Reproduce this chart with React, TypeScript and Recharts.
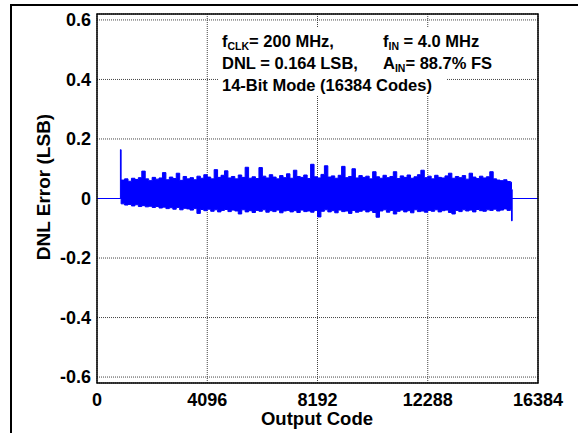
import { Area, AreaChart, CartesianGrid, ReferenceArea, XAxis, YAxis } from "recharts";

// output-code grid of the DNL band (one value per 128-code bin)
const bandStart = 896;
const bandStep = 128;

// upper envelope of the DNL noise band (LSB)
const bandHigh = [
  0.062, 0.066, 0.058, 0.068, 0.064, 0.07, 0.092, 0.066, 0.06, 0.071,
  0.065, 0.069, 0.087, 0.063, 0.072, 0.067, 0.085, 0.061, 0.074, 0.066,
  0.07, 0.063, 0.075, 0.068, 0.08, 0.072, 0.066, 0.097, 0.071, 0.078,
  0.093, 0.069, 0.074, 0.066, 0.079, 0.071, 0.105, 0.068, 0.073, 0.067,
  0.104, 0.075, 0.069, 0.08, 0.072, 0.066, 0.077, 0.07, 0.083, 0.068,
  0.095, 0.074, 0.071, 0.079, 0.067, 0.115, 0.073, 0.069, 0.081, 0.11,
  0.072, 0.076, 0.068, 0.078, 0.108, 0.07, 0.074, 0.1, 0.069, 0.077,
  0.071, 0.075, 0.066, 0.09, 0.073, 0.068, 0.078, 0.07, 0.074, 0.09,
  0.067, 0.076, 0.071, 0.079, 0.068, 0.073, 0.08, 0.095, 0.07, 0.075,
  0.066, 0.078, 0.071, 0.069, 0.076, 0.085, 0.068, 0.074, 0.07, 0.077,
  0.065, 0.085, 0.072, 0.067, 0.075, 0.069, 0.073, 0.09, 0.066, 0.062,
  0.06, 0.063, 0.057, 0.055,
];

// lower envelope of the DNL noise band (LSB)
const bandLow = [
  -0.018, -0.022, -0.02, -0.025, -0.021, -0.027, -0.024, -0.028, -0.026, -0.03,
  -0.027, -0.032, -0.029, -0.034, -0.031, -0.036, -0.03, -0.038, -0.033, -0.035,
  -0.039, -0.034, -0.05, -0.037, -0.041, -0.036, -0.043, -0.038, -0.045, -0.04,
  -0.037, -0.044, -0.039, -0.042, -0.052, -0.038, -0.045, -0.041, -0.047, -0.04,
  -0.043, -0.038, -0.046, -0.041, -0.044, -0.039, -0.048, -0.042, -0.04, -0.045,
  -0.041, -0.047, -0.039, -0.044, -0.042, -0.046, -0.04, -0.062, -0.043, -0.038,
  -0.045, -0.041, -0.048, -0.039, -0.044, -0.042, -0.05, -0.04, -0.046, -0.043,
  -0.039, -0.045, -0.041, -0.047, -0.063, -0.042, -0.038, -0.046, -0.04, -0.052,
  -0.043, -0.039, -0.045, -0.041, -0.048, -0.038, -0.044, -0.042, -0.046, -0.04,
  -0.043, -0.038, -0.045, -0.041, -0.039, -0.047, -0.052, -0.04, -0.044, -0.038,
  -0.042, -0.039, -0.045, -0.037, -0.041, -0.043, -0.038, -0.04, -0.036, -0.042,
  -0.039, -0.035, -0.04, -0.037,
];

// flat (untested) codes, first-code spike and last-code dip
const leadCodes = [0, 850];
const spike = { code: 870, value: 0.164 };
const dip = { code: 15400, low: -0.075, high: 0.03 };
const tailCodes = [15425, 16384];

const xTicks = [0, 4096, 8192, 12288, 16384];
const yTicks = [-0.6, -0.4, -0.2, 0, 0.2, 0.4, 0.6];

const rows = [
  ...leadCodes.map((code) => ({ code, dnl: [0, 0] })),
  { code: spike.code, dnl: [0, spike.value] },
  ...bandHigh.map((hi, i) => ({ code: bandStart + i * bandStep, dnl: [bandLow[i], hi] })),
  { code: dip.code, dnl: [dip.low, dip.high] },
  ...tailCodes.map((code) => ({ code, dnl: [0, 0] })),
];

const font = '"Liberation Sans", Arial, Helvetica, sans-serif';
const tickStyle = { fontSize: 18, fontWeight: 700, fill: "#000", fontFamily: font };

export default function App() {
  return (
    <div style={{ position: "relative", width: 578, height: 433, overflow: "hidden", background: "#fff" }}>
      <style>{"body{margin:0}"}</style>
      <div
        style={{
          position: "absolute",
          left: 10,
          top: 4,
          width: 600,
          height: 500,
          borderTop: "2px solid #000",
          borderLeft: "2px solid #000",
        }}
      />
      <div style={{ position: "absolute", left: 0, top: 0 }}>
        <AreaChart width={578} height={433} data={rows} margin={{ top: 14, right: 40, left: 0, bottom: 0 }}>
          <CartesianGrid stroke="#444" strokeDasharray="1 1" />
          <XAxis
            dataKey="code"
            type="number"
            domain={[0, 16384]}
            ticks={xTicks}
            height={50}
            tickLine={false}
            axisLine={false}
            tickSize={0}
            tickMargin={10}
            tick={tickStyle}
            interval={0}
          />
          <YAxis
            type="number"
            domain={[-0.62, 0.62]}
            ticks={yTicks}
            width={97}
            tickLine={false}
            axisLine={false}
            tickSize={0}
            tickMargin={6}
            tick={tickStyle}
            interval={0}
            tickFormatter={(v: number) => (v === 0 ? "0" : v.toFixed(1))}
          />
          <Area
            type="stepAfter"
            dataKey="dnl"
            stroke="#0000ff"
            strokeWidth={1}
            fill="#0000ff"
            fillOpacity={1}
            dot={false}
            activeDot={false}
            isAnimationActive={false}
          />
          <ReferenceArea x1={0} x2={16384} y1={-0.62} y2={0.62} fill="none" stroke="#000" strokeWidth={1.5} />
        </AreaChart>
      </div>
      <svg
        width={578}
        height={433}
        style={{ position: "absolute", left: 0, top: 0, pointerEvents: "none" }}
        fontFamily={font}
        fontWeight={700}
      >
        <rect x={219} y={28} width={274} height={46} fill="#fff" />
        <rect x={219} y={74} width={227} height={22} fill="#fff" />
        <text x={222} y={47} fontSize={16.5}>
          f<tspan fontSize={10.5} dy={3}>CLK</tspan>
          <tspan dy={-3}>= 200 MHz,</tspan>
        </text>
        <text x={383} y={47} fontSize={16.5}>
          f<tspan fontSize={10.5} dy={3}>IN</tspan>
          <tspan dy={-3}> = 4.0 MHz</tspan>
        </text>
        <text x={222} y={69} fontSize={16.5}>
          DNL = 0.164 LSB,
        </text>
        <text x={383} y={69} fontSize={16.5}>
          A<tspan fontSize={10.5} dy={3}>IN</tspan>
          <tspan dy={-3}>= 88.7% FS</tspan>
        </text>
        <text x={222} y={91} fontSize={16.5}>
          14-Bit Mode (16384 Codes)
        </text>
        <text x={317} y={425} fontSize={18.5} textAnchor="middle">
          Output Code
        </text>
        <text x={50} y={187} fontSize={19} textAnchor="middle" transform="rotate(-90 50 187)">
          DNL Error (LSB)
        </text>
      </svg>
    </div>
  );
}
